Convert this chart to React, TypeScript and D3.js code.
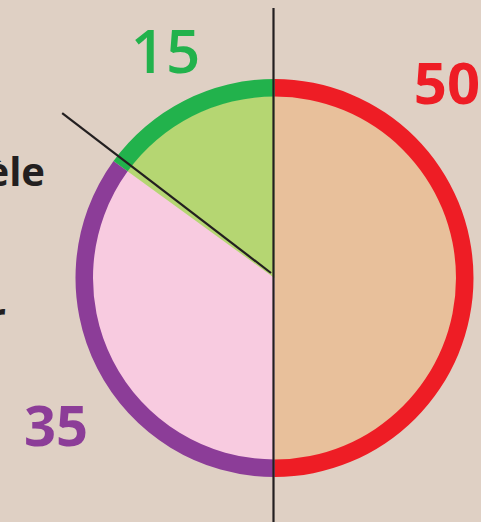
import React from 'react';
import * as d3 from 'd3';

const categories = ['rouge', 'violet', 'vert'];
const values = [50, 35, 15];
const ringColors = ['#ee1d25', '#8c3d98', '#22b24c'];
const fillColors = ['#e8c09b', '#f8cbe0', '#b5d672'];
const valueLabels = ['50', '35', '15'];
const sideLabels = ['parallèle', 'inférieur'];

const W = 481;
const H = 522;
const cx = 274.5;
const cy = 278;
const R = 199;
const ringW = 17.5;

export default function App() {
  const pie = d3.pie<number>().sort(null).value(d => d);
  const arcs = pie(values);
  const inner = d3.arc<d3.PieArcDatum<number>>().innerRadius(0).outerRadius(R - ringW + 0.5);
  const ring = d3.arc<d3.PieArcDatum<number>>().innerRadius(R - ringW).outerRadius(R);

  // boundary between violet and vert, drawn as a leader line
  const a = arcs[2].startAngle + 0.025;
  const ox = 271;
  const oy = 273;
  const len = 263;
  const lx = ox + Math.sin(a) * len;
  const ly = oy - Math.cos(a) * len;

  const labelPos = [
    { x: 447, y: 104, size: 58, weight: 700, ls: 0 },
    { x: 56, y: 446, size: 56, weight: 700, ls: 0 },
    { x: 166, y: 73, size: 60, weight: 600, ls: 1 },
  ];

  return (
    <svg width={W} height={H} style={{ position: 'absolute', left: 0, top: 0 }}>
      <rect width={W} height={H} fill="#dfd0c4" />
      <g transform={`translate(${cx},${cy})`}>
        {arcs.map((d, i) => (
          <path key={'f' + categories[i]} d={inner(d) || ''} fill={fillColors[i]} />
        ))}
        {arcs.map((d, i) => (
          <path key={'r' + categories[i]} d={ring(d) || ''} fill={ringColors[i]} />
        ))}
      </g>
      <line x1={273.5} x2={273.5} y1={8} y2={H} stroke="#231f20" strokeWidth={2.2} />
      <line x1={ox} y1={oy} x2={lx} y2={ly} stroke="#231f20" strokeWidth={2.2} />
      {valueLabels.map((t, i) => (
        <text
          key={t}
          x={labelPos[i].x}
          y={labelPos[i].y}
          textAnchor="middle"
          fontFamily="'Open Sans', sans-serif"
          fontWeight={labelPos[i].weight}
          fontSize={labelPos[i].size}
          letterSpacing={labelPos[i].ls}
          fill={ringColors[i]}
        >
          {t}
        </text>
      ))}
      <text x={45} y={186} textAnchor="end" fontFamily="'Open Sans', sans-serif" fontWeight={700} fontSize={40} fill="#231f20">
        {sideLabels[0]}
      </text>
      <text x={6} y={331} textAnchor="end" fontFamily="'Open Sans', sans-serif" fontWeight={700} fontSize={40} fill="#231f20">
        {sideLabels[1]}
      </text>
    </svg>
  );
}
